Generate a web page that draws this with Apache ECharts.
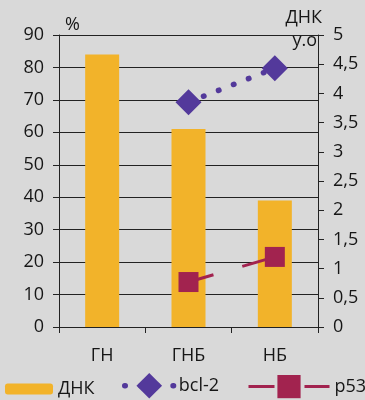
<!DOCTYPE html>
<html>
<head>
<meta charset="utf-8">
<script src="https://cdn.jsdelivr.net/npm/echarts@6/dist/echarts.min.js"></script>
<style>
  html, body { margin: 0; padding: 0; background: #d9d9d9; }
  #chart { width: 365px; height: 400px; }
</style>
</head>
<body>
<div id="chart"></div>
<script>
// Groups and measurements
const categories = ['ГН', 'ГНБ', 'НБ'];
const dnaPercent = [84, 61, 39];          // ДНК, % (left axis)
const bcl2Values = [null, 3.85, 4.43];    // bcl-2, у.о (right axis)
const p53Values = [null, 0.77, 1.2];      // p53, у.о (right axis)

const FONT = '"Open Sans", sans-serif';
const FS = 18;
const TEXT = '#161616';
const LINE = '#222222';
const BAR = '#f2b32a';
const PURPLE = '#53399b';
const CRIMSON = '#a2234f';

const chart = echarts.init(document.getElementById('chart'), null, { renderer: 'canvas' });

const fmtComma = v => String(Math.round(v * 10) / 10).replace('.', ',');
const legendText = { fontFamily: FONT, fontSize: FS, color: TEXT };

chart.setOption({
  backgroundColor: '#d9d9d9',
  animation: false,
  textStyle: { fontFamily: FONT, color: TEXT },
  grid: { left: 59, right: 47, top: 35, bottom: 73, containLabel: false },
  legend: [
    {
      data: ['ДНК'], left: 5, top: 380, padding: 0, itemWidth: 48, itemHeight: 11,
      textStyle: legendText, selectedMode: false
    },
    {
      data: ['bcl-2'], left: 122, top: 373, padding: 0, itemWidth: 49, itemHeight: 32,
      lineStyle: { width: 5.5 },
      textStyle: legendText, selectedMode: false
    },
    {
      data: ['p53'], left: 247, top: 375, padding: 0, itemWidth: 81, itemHeight: 29,
      lineStyle: { width: 3 },
      textStyle: legendText, selectedMode: false
    }
  ],
  xAxis: {
    type: 'category',
    data: categories,
    boundaryGap: true,
    axisLine: { lineStyle: { color: LINE, width: 1 } },
    axisTick: { show: true, length: 6, lineStyle: { color: LINE } },
    axisLabel: { fontFamily: FONT, fontSize: FS, color: TEXT, margin: 20 }
  },
  yAxis: [
    {
      type: 'value', min: 0, max: 90, interval: 10,
      axisLine: { show: true, lineStyle: { color: LINE, width: 1 } },
      axisTick: { show: true, length: 6, lineStyle: { color: LINE } },
      splitLine: { show: true, lineStyle: { color: LINE, width: 1 } },
      axisLabel: { fontFamily: FONT, fontSize: FS, color: TEXT, margin: 15 }
    },
    {
      type: 'value', min: 0, max: 5, interval: 0.5, position: 'right',
      axisLine: { show: true, lineStyle: { color: LINE, width: 1 } },
      axisTick: { show: true, length: 6, lineStyle: { color: LINE } },
      splitLine: { show: false },
      axisLabel: { fontFamily: FONT, fontSize: FS, color: TEXT, margin: 15, formatter: fmtComma }
    }
  ],
  series: [
    {
      name: 'ДНК', type: 'bar', yAxisIndex: 0, data: dnaPercent,
      barWidth: 34, itemStyle: { color: BAR }
    },
    {
      name: 'bcl-2', type: 'line', yAxisIndex: 1, data: bcl2Values,
      symbol: 'diamond', symbolSize: 26, connectNulls: false,
      itemStyle: { color: PURPLE },
      lineStyle: { color: PURPLE, width: 5.5, type: [0.5, 15.6], cap: 'round' },
      z: 3
    },
    {
      name: 'p53', type: 'line', yAxisIndex: 1, data: p53Values,
      symbol: 'rect', symbolSize: 20,
      itemStyle: { color: CRIMSON },
      lineStyle: { color: CRIMSON, width: 3, type: [26, 30], cap: 'butt' },
      z: 4
    }
  ],
  graphic: [
    { type: 'text', left: 65, top: 16, style: { text: '%', font: FS + 'px ' + FONT, fill: TEXT } },
    { type: 'text', right: 43, top: 9, style: { text: 'ДНК', font: FS + 'px ' + FONT, fill: TEXT } },
    { type: 'text', right: 48, top: 32, style: { text: 'у.о', font: FS + 'px ' + FONT, fill: TEXT } }
  ]
});
</script>
</body>
</html>
